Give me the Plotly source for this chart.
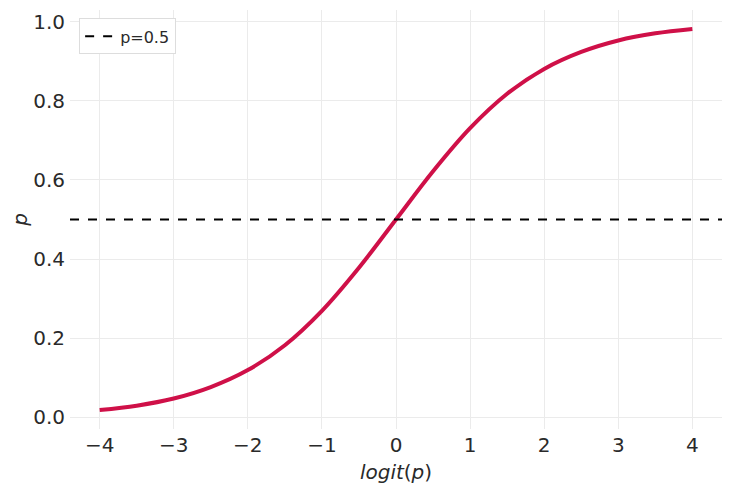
import plotly.graph_objects as go

# values
logit_x = [-4.0, -3.5, -3.0, -2.5, -2.0, -1.5, -1.0, -0.5, 0.0, 0.5, 1.0, 1.5, 2.0, 2.5, 3.0, 3.5, 4.0]
p_vals = [0.018, 0.029, 0.047, 0.076, 0.119, 0.182, 0.269, 0.378, 0.5, 0.622, 0.731, 0.818, 0.881, 0.924, 0.953, 0.971, 0.982]
ref_x = [-4.4, 4.4]
ref_p = [0.5, 0.5]
x_ticks = [-4, -3, -2, -1, 0, 1, 2, 3, 4]
y_ticks = [0.0, 0.2, 0.4, 0.6, 0.8, 1.0]

fig = go.Figure()
fig.add_trace(go.Scatter(x=logit_x, y=p_vals, mode="lines", line=dict(color="#cf1048", width=4, shape="spline"),
                         showlegend=False))
fig.add_trace(go.Scatter(x=ref_x, y=ref_p, mode="lines", line=dict(color="black", width=2, dash="dash"),
                         name="p=0.5"))

fig.update_layout(
    width=731, height=491,
    margin=dict(l=62, r=17, t=2, b=70),
    plot_bgcolor="white", paper_bgcolor="white",
    font=dict(family="DejaVu Sans", color="#2a2a2a", size=20),
    legend=dict(x=0.014, y=0.98, xanchor="left", yanchor="top", bgcolor="white",
                bordercolor="#dddddd", borderwidth=1, font=dict(size=16)),
    xaxis=dict(range=[-4.4, 4.4], tickvals=x_ticks, showgrid=True, gridcolor="#ebebeb", zeroline=False,
               showline=False, ticks="", automargin=False, ticklabelstandoff=2,
               title=dict(text="<i>logit</i>(<i>p</i>)", font=dict(size=20), standoff=8)),
    yaxis=dict(range=[-0.03, 1.03], tickvals=y_ticks, tickformat=".1f", showgrid=True, gridcolor="#ebebeb",
               zeroline=False, showline=False, ticks="", automargin=False, ticklabelstandoff=4,
               title=dict(text="<i>p</i>", font=dict(size=20), standoff=15)),
)
fig.write_html("out.html")
